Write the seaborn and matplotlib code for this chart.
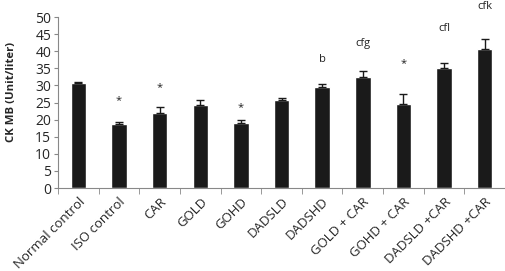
import numpy as np
import pandas as pd
import matplotlib
matplotlib.use("Agg")
import matplotlib.pyplot as plt
import seaborn as sns

# values
groups = ["Normal control", "ISO control", "CAR", "GOLD", "GOHD", "DADSLD",
          "DADSHD", "GOLD + CAR", "GOHD + CAR", "DADSLD +CAR", "DADSHD +CAR"]
means = [30.7, 18.8, 21.9, 24.3, 18.9, 25.7, 29.5, 32.6, 24.5, 35.2, 40.6]
sems = [0.3, 0.5, 1.7, 1.4, 1.0, 0.6, 1.0, 1.5, 3.0, 1.5, 2.9]
marks = ["", "*", "*", "", "*", "", "b", "cfg", "*", "cfl", "cfk"]
mark_y = [None, 25.5, 29.5, None, 23.5, None, 37.5, 42.2, 36.5, 46.8, 53.0]

df = pd.DataFrame({"group": groups, "mean": means})

sns.set_style("white")
plt.rcParams["font.family"] = ["Open Sans", "DejaVu Sans"]

fig = plt.figure(figsize=(5.05, 2.71), dpi=100)
ax = fig.add_axes([0.115, 0.306, 0.885, 0.631])

sns.barplot(data=df, x="group", y="mean", color="#1a1a1a", width=0.38,
            saturation=1, ax=ax)
x = np.arange(len(groups))
ax.errorbar(x, means, yerr=[np.zeros(len(sems)), sems], fmt="none",
            ecolor="#1a1a1a", elinewidth=1, capsize=3, capthick=1)

for xi, m, my in zip(x, marks, mark_y):
    if m:
        ax.text(xi, my, m, ha="center", va="center", fontsize=8,
                color="#222222", clip_on=False)

ax.set_ylim(0, 50)
ax.set_xlim(-0.5, len(groups) - 0.5)
ax.set_yticks(range(0, 51, 5))
ax.set_xlabel("")
ax.set_ylabel("CK MB (Unit/liter)", fontsize=8.2, fontweight="bold",
              va="center")
ax.yaxis.set_label_coords(-0.105, 0.56)
ax.tick_params(axis="y", labelsize=10, length=3, left=True, color="#888888",
               pad=2)
ax.set_xticks(x)
ax.set_xticklabels(groups, rotation=45, ha="right", rotation_mode="anchor",
                   fontsize=9.5)
ax.tick_params(axis="x", length=0, pad=5)
ax.set_xticks(np.arange(-0.5, len(groups), 1), minor=True)
ax.tick_params(axis="x", which="minor", length=4, color="#888888", bottom=True)

for s in ["top", "right"]:
    ax.spines[s].set_visible(False)
for s in ["left", "bottom"]:
    ax.spines[s].set_color("#888888")
    ax.spines[s].set_linewidth(0.8)

fig.savefig("out.png", dpi=100)
